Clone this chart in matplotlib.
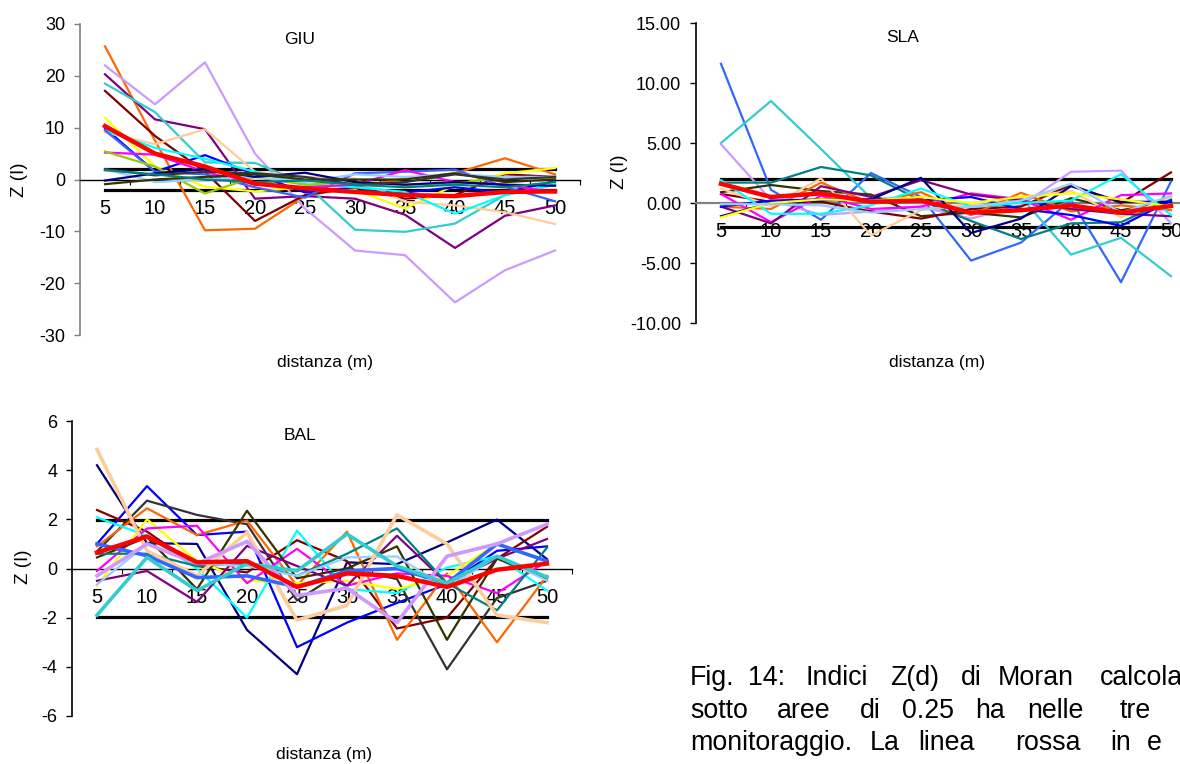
import matplotlib
matplotlib.use("Agg")
import matplotlib.pyplot as plt

plt.rcParams["font.family"] = ["Liberation Sans", "DejaVu Sans"]

distanze = [5, 10, 15, 20, 25, 30, 35, 40, 45, 50]
soglia = 1.96

# GIU: one row per subplot, Z(d) per distance class
giu_series = [
    [25.7, 7.5, -9.8, -9.5, -3.2, -1.5, 0.2, 1.2, 4.1, 1.0],
    [22.0, 14.5, 22.6, 5.0, -5.6, -13.7, -14.6, -23.7, -17.5, -13.7],
    [20.3, 11.6, 9.7, -3.7, -3.2, -3.7, -6.8, -13.2, -7.0, -5.0],
    [18.5, 13.0, 3.3, 3.2, -0.8, -9.7, -10.1, -8.5, -3.0, -1.0],
    [17.1, 8.4, 1.5, -8.0, -3.0, -1.5, -3.7, -3.0, 1.0, 0.5],
    [11.9, 2.5, -1.4, -2.3, -1.5, -2.0, -5.6, -1.1, 1.2, 2.2],
    [9.9, 1.5, 4.7, 1.0, -2.5, -1.5, -2.5, -1.5, -2.5, -0.3],
    [9.1, 6.8, 9.7, 1.5, 0.5, 0.2, -4.3, -5.0, -6.3, -8.6],
    [9.5, 6.1, 4.0, 1.5, -1.0, -1.5, -2.4, -6.6, -3.0, -1.0],
    [9.5, 1.5, 1.0, -1.5, -3.5, 1.2, 1.5, 1.9, -1.4, -4.2],
    [5.2, 4.8, 1.5, -1.0, -1.5, -1.0, 1.8, -0.5, -1.0, -2.5],
    [5.4, 2.5, -2.7, 0.5, -1.0, -0.5, -1.0, -0.8, 0.5, 0.3],
    [2.0, -0.5, 0.0, 0.5, -0.5, 1.0, 0.5, 1.0, 0.5, 0.5],
    [-0.2, 1.2, 2.0, 0.5, 1.3, -0.5, -1.0, -0.5, -1.0, -1.2],
    [-0.9, 0.0, 0.5, 1.0, 0.0, 0.0, 0.0, 1.2, -0.5, 0.0],
    [2.0, 0.8, 1.5, 1.2, 0.5, -1.0, -0.5, 1.0, 0.0, 0.5],
    [1.8, 1.0, 0.0, -0.5, -0.2, -1.0, -1.5, -1.0, -1.5, -0.5],
]
giu_colors = ["#FF6600", "#CC99FF", "#800080", "#33CCCC", "#800000", "#FFFF00",
              "#0000FF", "#FFCC99", "#00FFFF", "#3366FF", "#FF00FF", "#99CC00",
              "#99CCFF", "#000080", "#333300", "#333333", "#008080"]
giu_media = [10.3, 5.0, 2.5, -0.8, -1.7, -2.4, -3.0, -3.2, -2.4, -2.3]

# SLA
sla_series = [
    [11.6, 1.1, -1.4, 2.5, 0.5, -4.8, -3.3, 0.25, -6.6, 1.8],
    [5.0, 8.5, 4.5, 0.4, 0.3, -1.0, 0.5, -4.3, -2.9, -6.1],
    [4.9, 0.25, -1.0, -0.7, -0.3, -1.3, -0.2, 2.6, 2.7, -1.7],
    [1.7, 1.7, 3.0, 2.3, 0.2, -1.5, -3.0, -1.7, -1.6, 0.3],
    [0.9, 1.5, 1.0, 0.7, -1.1, -0.8, -1.2, 0.4, -0.6, 0.1],
    [0.75, 0.1, 0.1, -0.7, -1.3, -0.5, -0.3, 1.5, 0.0, 2.55],
    [1.2, -0.25, 2.05, -2.7, -0.6, -0.1, 0.5, 1.0, -1.2, 0.5],
    [-0.3, -0.5, 1.7, 0.0, 0.9, -1.0, 0.85, -0.7, -0.2, -0.6],
    [0.75, -1.6, 0.6, -0.5, -0.3, 0.8, 0.3, -1.4, 0.65, 0.8],
    [-0.3, -1.7, 1.4, 0.5, 1.9, 0.7, 0.2, -0.5, -0.9, -1.1],
    [-1.1, 0.0, 0.2, 0.3, 2.1, -2.5, -1.3, 1.4, 0.1, 0.1],
    [-0.3, 0.2, 0.3, 0.3, 0.2, 0.5, -0.5, -1.0, -1.9, 0.2],
    [1.9, -0.9, -0.9, -0.2, 1.2, -0.3, 0.0, 0.2, 2.4, -1.0],
    [-1.2, 0.0, 0.3, 0.2, 0.5, 0.0, 0.5, 0.8, 0.3, -0.3],
    [-0.1, -0.1, -0.2, -0.8, -0.5, -0.3, 0.2, 1.6, -0.8, 0.6],
]
sla_colors = ["#3366FF", "#33CCCC", "#CC99FF", "#008080", "#333300", "#800000",
              "#FFCC99", "#FF6600", "#FF00FF", "#800080", "#000080", "#0000FF",
              "#00FFFF", "#FFFF00", "#99CCFF"]
sla_media = [1.6, 0.5, 0.8, 0.1, 0.2, -0.8, -0.6, -0.2, -0.8, -0.25]

# BAL
bal_series = [
    [4.2, 1.03, 1.0, -2.5, -4.3, 0.25, 0.18, 1.06, 1.99, 0.38],
    [1.0, 3.35, 1.36, 1.5, -3.2, -2.2, -1.4, -0.64, 0.72, 0.9],
    [0.7, 2.76, 2.18, 1.8, -1.3, 0.0, -0.43, -4.1, -1.2, -0.5],
    [2.38, 1.5, 0.1, -0.16, 1.15, 0.3, -2.44, -2.0, 0.4, 1.7],
    [0.9, 2.45, 1.36, 1.95, -0.7, 1.5, -2.9, -0.2, -3.0, -0.3],
    [2.08, 1.33, 0.0, -2.0, 1.54, -0.84, -1.0, 0.04, 0.5, -0.9],
    [-0.7, 2.0, 0.3, -0.5, -0.6, -0.5, -0.84, -0.3, 1.0, 0.3],
    [-0.1, 1.63, 1.74, -0.6, 0.8, -0.7, -0.2, -0.3, -1.0, 0.3],
    [0.45, 1.27, -0.84, 2.35, -0.4, 0.0, 0.9, -2.9, 0.4, -0.4],
    [-0.5, -0.1, -1.36, 0.92, 0.1, -0.7, 1.33, -0.6, 0.4, 1.2],
    [0.6, 0.6, 0.1, 0.2, -0.3, 0.6, 1.63, -0.6, -1.7, 0.85],
    [-0.65, 1.0, 0.2, 0.1, -0.3, 0.45, 0.49, -0.8, 0.5, -0.5],
    [4.84, 0.72, -0.3, 1.47, -2.1, -1.5, 2.18, 1.0, -1.9, -2.2],
    [1.0, 0.52, -0.37, -0.3, -0.75, -0.1, 0.0, -0.6, 1.0, 0.3],
    [-0.3, 1.0, 0.2, 1.1, -1.1, -0.8, -2.2, 0.5, 1.0, 1.8],
    [-1.9, 0.45, -0.9, 0.2, -0.1, 1.4, 0.1, -0.6, 0.5, -0.35],
]
bal_colors = ["#000080", "#0000FF", "#333333", "#800000", "#FF6600", "#00FFFF",
              "#FFFF00", "#FF00FF", "#333300", "#800080", "#008080", "#99CCFF",
              "#FFCC99", "#3366FF", "#CC99FF", "#33CCCC"]
bal_widths = [1.6] * 12 + [2.6, 2.6, 2.6, 2.6]
bal_media = [0.65, 1.3, 0.25, 0.3, -0.75, -0.2, -0.3, -0.75, -0.05, 0.2]

W, H = 1180, 764
fig = plt.figure(figsize=(W / 100, H / 100), dpi=100)


def px_axes(left, top, right, bottom):
    return fig.add_axes([left / W, 1 - bottom / H, (right - left) / W, (bottom - top) / H])


def pannello(ax, titolo, tx, series, colors, widths, media, ylim, yticks, yfmt,
             yspine_col, xspine_col, xspine_lw):
    x = list(range(len(distanze)))
    ax.plot(x, [soglia] * len(x), color="black", lw=2.3, zorder=2)
    ax.plot(x, [-soglia] * len(x), color="black", lw=2.3, zorder=2)
    for vals, c, w in zip(series, colors, widths):
        ax.plot(x, vals, color=c, lw=w, zorder=3)
    ax.plot(x, media, color="#FF0000", lw=3.2, zorder=4)

    ax.set_xlim(-0.5, 9.5)
    ax.set_ylim(*ylim)
    ax.set_yticks(yticks)
    ax.set_yticklabels([yfmt.format(v) for v in yticks])
    ax.set_xticks(x)
    ax.set_xticklabels([str(d) for d in distanze])
    ax.set_xticks([i + 0.5 for i in x], minor=True)
    ax.tick_params(axis="x", which="major", length=0, pad=14, labelsize=14.5)
    ax.tick_params(axis="x", which="minor", length=3.5, direction="out", width=0.8)
    ax.tick_params(axis="y", length=4.2, width=1, pad=6.5, color=yspine_col,
                   labelsize=13)

    for s in ("top", "right"):
        ax.spines[s].set_visible(False)
    ax.spines["left"].set_color(yspine_col)
    ax.spines["left"].set_linewidth(1.2)
    ax.spines["bottom"].set_position(("data", 0))
    ax.spines["bottom"].set_color(xspine_col)
    ax.spines["bottom"].set_linewidth(xspine_lw)
    ax.set_facecolor("none")
    ax.text(tx, 0.975, titolo, transform=ax.transAxes, ha="center", va="top",
            fontsize=12.5)


# GIU
ax1 = px_axes(80, 24, 580, 335)
pannello(ax1, "GIU", 0.44, giu_series, giu_colors, [1.6] * len(giu_series), giu_media,
         (-30, 30), [-30, -20, -10, 0, 10, 20, 30], "{:.0f}", "#808080", "black", 1.0)
fig.text(20 / W, 1 - 180 / H, "Z (I)", rotation=90, ha="center", va="center",
         fontsize=13.5)
fig.text(325 / W, 1 - 362 / H, "distanza (m)", ha="center", va="center",
         fontsize=12.5)

# SLA
ax2 = px_axes(696, 23, 1196, 323)
pannello(ax2, "SLA", 0.414, sla_series, sla_colors, [1.6] * len(sla_series), sla_media,
         (-10, 15), [-10, -5, 0, 5, 10, 15], "{:.2f}", "black", "#808080", 1.6)
fig.text(620 / W, 1 - 172 / H, "Z (I)", rotation=90, ha="center", va="center",
         fontsize=13.5)
fig.text(937 / W, 1 - 362 / H, "distanza (m)", ha="center", va="center",
         fontsize=12.5)

# BAL
ax3 = px_axes(72, 421, 572, 716)
pannello(ax3, "BAL", 0.456, bal_series, bal_colors, bal_widths, bal_media,
         (-6, 6), [-6, -4, -2, 0, 2, 4, 6], "{:.0f}", "black", "black", 1.0)
fig.text(23 / W, 1 - 567 / H, "Z (I)", rotation=90, ha="center", va="center",
         fontsize=13.5)
fig.text(324 / W, 1 - 755 / H, "distanza (m)", ha="center", va="center",
         fontsize=12.5)

# caption, justified word by word
didascalia = [
    (685, [(690, "Fig."), (748, "14:"), (805, "Indici"), (890, "Z(d)"), (961, "di"),
           (998, "Moran"), (1100, "calcolat")]),
    (718, [(690, "sotto"), (777, "aree"), (860, "di"), (902, "0.25"), (975, "ha"),
           (1027, "nelle"), (1120, "tre")]),
    (750, [(690, "monitoraggio."), (870, "La"), (918, "linea"), (1015, "rossa"),
           (1110, "in"), (1147, "e")]),
]
for base, parole in didascalia:
    for xw, parola in parole:
        fig.text(xw / W, 1 - base / H, parola, ha="left", va="baseline",
                 fontsize=19.3)

fig.savefig("out.png", dpi=100, facecolor="white")
